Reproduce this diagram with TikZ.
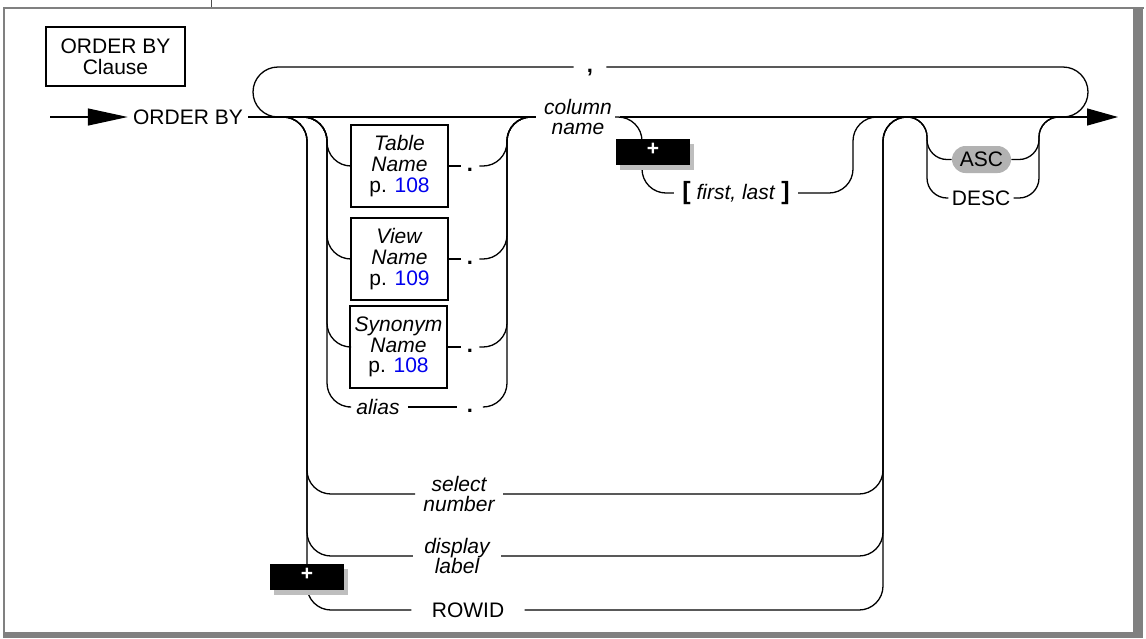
\documentclass[tikz,border=0pt]{standalone}
\usepackage{xcolor}
\usepackage{fontspec}
\setmainfont{Liberation Sans}
\usetikzlibrary{arrows.meta,shadows}
\definecolor{framegray}{RGB}{128,128,128}
\definecolor{defaultgray}{RGB}{178,178,178}
\definecolor{shadowgray}{RGB}{190,190,190}
\definecolor{linkblue}{RGB}{0,0,238}

\begin{document}
\begin{tikzpicture}[
  x=0.5pt,y=-0.5pt,
  rail/.style={line width=0.65pt,rounded corners=12pt},
  kw/.style={font=\fontsize{10.5}{10.3}\selectfont,inner sep=2.5pt},
  var/.style={font=\fontsize{10.5}{10.3}\selectfont\itshape,align=center,inner sep=4pt},
  refbox/.style={draw,line width=1.4pt,font=\fontsize{10.5}{10.3}\selectfont,align=center,minimum width=48.5pt,minimum height=41pt,inner sep=0pt},
  sepmark/.style={font=\fontsize{11}{10.3}\selectfont\bfseries,inner ysep=0pt,inner xsep=3pt,text height=5.5pt,text depth=0pt},
  plusbox/.style={fill=black,text=white,font=\fontsize{10.5}{10.3}\selectfont\bfseries,minimum width=37pt,minimum height=13pt,inner sep=0pt,text height=3.4pt,text depth=0pt,drop shadow={shadow xshift=2pt,shadow yshift=-2.5pt,fill=shadowgray,opacity=1}},
]
\useasboundingbox (0,0) rectangle (1146,638);

% Frame
\fill[framegray] (3,7) rectangle (1144,9);
\fill[framegray] (3,7) rectangle (5,634);
\fill[framegray] (1133,9) rectangle (1143,638);
\fill[framegray] (3,632) rectangle (1143,638);
\draw[line width=0.5pt,black!70] (211,0) -- (211,7);

\node[refbox,line width=1.2pt,minimum width=69.5pt,minimum height=29.5pt] (title) at (115.5,56.5) {ORDER BY\\Clause};

% Main line
\coordinate (entry) at (50,117);
\coordinate (exit) at (1118,117);
\node[kw] (orderby) at (188,117) {ORDER BY};
\node[var] (colname) at (578,117) {column\\name};

\draw[rail,-{Triangle[length=20pt,width=8.5pt]}] (entry) -- (orderby.west);
\draw[rail] (orderby.east) -- (colname.west);
\draw[rail,-{Triangle[length=15.5pt,width=8.5pt]}] (colname.east) -- (exit);

% Comma loop
\coordinate (loopL) at (253,117);
\coordinate (loopLin) at (280,117);
\coordinate (loopR) at (1088,117);
\coordinate (loopRin) at (1062,117);
\node[sepmark,inner xsep=6.5pt,text height=5pt] (comma) at (590,67) {,};
\draw[rail,rounded corners=12.5pt] (comma.west) -| (loopL) -- (loopLin);
\draw[rail,rounded corners=12.5pt] (comma.east) -| (loopR) -- (loopRin);

% Table / view / synonym / alias
\coordinate (tabIn) at (300,117);
\coordinate (tabL) at (327,117);
\coordinate (tabR) at (507,117);
\coordinate (tabOut) at (534,117);
\node[refbox] (tblname) at (399.5,166) {\textit{Table}\\\textit{Name}\\p. \textcolor{linkblue}{108}};
\node[refbox] (viewname) at (399.5,259) {\textit{View}\\\textit{Name}\\p. \textcolor{linkblue}{109}};
\node[refbox] (synname) at (398.5,347) {\textit{Synonym}\\\textit{Name}\\p. \textcolor{linkblue}{108}};
\node[var] (alias) at (378,407) {alias};
\node[sepmark] (tbldot) at (470,166) {.};
\node[sepmark] (viewdot) at (470,259) {.};
\node[sepmark] (syndot) at (470,347) {.};
\node[sepmark,inner xsep=5pt] (aliasdot) at (470,407) {.};

\draw[rail] (tabIn) -- (tabL) |- (tblname.west);
\draw[rail] (tabIn) -- (tabL) |- (viewname.west);
\draw[rail] (tabIn) -- (tabL) |- (synname.west);
\draw[rail] (tabIn) -- (tabL) |- (alias.west);
\draw[rail] (tblname.east) -- (tbldot.west);
\draw[rail] (viewname.east) -- (viewdot.west);
\draw[rail] (synname.east) -- (syndot.west);
\draw[rail] (alias.east) -- (aliasdot.west);
\draw[rail] (tbldot.east) -| (tabR) -- (tabOut);
\draw[rail] (viewdot.east) -| (tabR) -- (tabOut);
\draw[rail] (syndot.east) -| (tabR) -- (tabOut);
\draw[rail] (aliasdot.east) -| (tabR) -- (tabOut);

% first, last
\coordinate (flIn) at (615,117);
\coordinate (flL) at (642,117);
\coordinate (flR) at (853,117);
\coordinate (flOut) at (880,117);
\node[var,font=\fontsize{10.5}{10.3}\selectfont] (firstlast) at (736,193) {{\fontsize{12.5}{12}\selectfont\bfseries[} \textit{first, last} {\fontsize{12.5}{12}\selectfont\bfseries]}};
\draw[rail] (flIn) -- (flL) |- (firstlast.west);
\draw[rail] (firstlast.east) -| (flR) -- (flOut);

% select number / display label / ROWID
\coordinate (outIn) at (280,117);
\coordinate (outL) at (307,117);
\coordinate (outR) at (883,117);
\coordinate (outOut) at (910,117);
\node[var] (selnum) at (459,494) {select\\number};
\node[var,inner xsep=5.5pt] (displbl) at (457,556) {display\\label};
\node[kw,inner xsep=10pt] (rowid) at (468,610) {ROWID};

\draw[rail] (outIn) -- (outL) |- (selnum.west);
\draw[rail] (outIn) -- (outL) |- (displbl.west);
\draw[rail] (outIn) -- (outL) |- (rowid.west);
\draw[rail] (selnum.east) -| (outR) -- (outOut);
\draw[rail] (displbl.east) -| (outR) -- (outOut);
\draw[rail] (rowid.east) -| (outR) -- (outOut);

% ASC / DESC
\coordinate (ordIn) at (903,117);
\coordinate (ordL) at (927,117);
\coordinate (ordR) at (1039,117);
\coordinate (ordOut) at (1063,117);
\node[kw,fill=defaultgray,rounded corners=6.75pt,minimum width=29.5pt,minimum height=13.5pt,inner sep=0pt] (asc) at (981.5,159.5) {ASC};
\node[kw,inner sep=1.5pt] (desc) at (981,198) {DESC};
\draw[rail,rounded corners=10pt] (ordIn) -- (ordL) |- (asc.west);
\draw[rail,rounded corners=10pt] (ordIn) -- (ordL) |- (desc.west);
\draw[rail,rounded corners=10pt] (asc.east) -| (ordR) -- (ordOut);
\draw[rail,rounded corners=10pt] (desc.east) -| (ordR) -- (ordOut);

% Extension marks
\node[plusbox] (plusfl) at (653,152) {+};
\node[plusbox] (plusrow) at (307,577) {+};

\end{tikzpicture}
\end{document}
